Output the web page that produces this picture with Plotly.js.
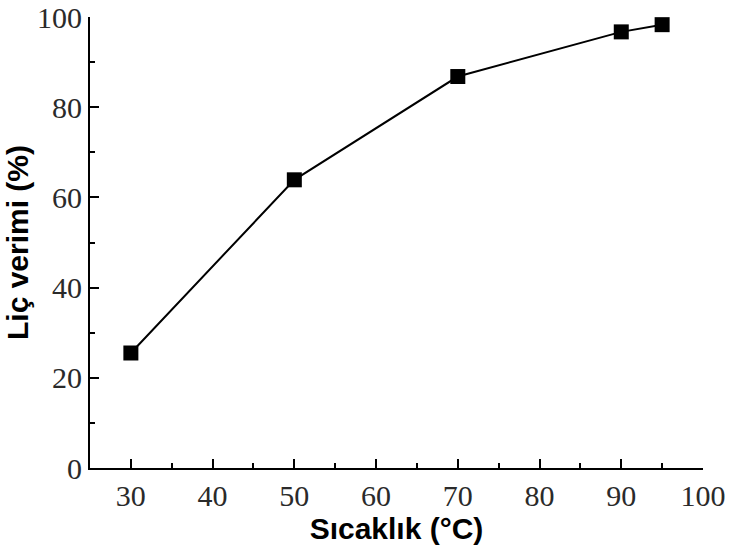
<!DOCTYPE html>
<html>
<head>
<meta charset="utf-8">
<script src="https://cdn.plot.ly/plotly-3.0.1.min.js"></script>
<style>html,body{margin:0;padding:0;background:#fff;}#chart{width:729px;height:551px;}</style>
</head>
<body>
<div id="chart"></div>
<script>
const temperature = [30, 50, 70, 90, 95];
const leachYield = [25.5, 63.9, 86.8, 96.7, 98.3];
const xTickVals = [30, 40, 50, 60, 70, 80, 90, 100];
const yTickVals = [0, 20, 40, 60, 80, 100];
const xTitle = "Sıcaklık (°C)";
const yTitle = "Liç verimi (%)";

const tickFont = {family: "Liberation Serif, Times New Roman, serif", size: 30, color: "#2a2a2a"};
const titleFont = {family: "Liberation Sans, Arial, sans-serif", size: 30, color: "#000", weight: "bold"};

Plotly.newPlot("chart", [{
  x: temperature,
  y: leachYield,
  type: "scatter",
  mode: "lines+markers",
  line: {color: "#000", width: 2},
  marker: {symbol: "square", size: 15, color: "#000"}
}], {
  width: 729, height: 551,
  margin: {l: 90, r: 26, t: 17, b: 83},
  paper_bgcolor: "#fff", plot_bgcolor: "#fff",
  showlegend: false,
  xaxis: {
    range: [25, 100], tickvals: xTickVals, automargin: false, ticklabeloverflow: "allow",
    showgrid: false, zeroline: false, showline: true, linecolor: "#000", linewidth: 2,
    ticks: "inside", ticklen: 9, tickwidth: 2, tickcolor: "#000",
    minor: {tickvals: [35, 45, 55, 65, 75, 85, 95], ticks: "inside", ticklen: 5, tickwidth: 2, tickcolor: "#000"},
    tickfont: tickFont,
    title: {text: xTitle, font: titleFont, standoff: 6}
  },
  yaxis: {
    range: [0, 100], tickvals: yTickVals, automargin: false, ticklabeloverflow: "allow",
    showgrid: false, zeroline: false, showline: true, linecolor: "#000", linewidth: 2,
    ticks: "inside", ticklen: 9, tickwidth: 2, tickcolor: "#000",
    minor: {tickvals: [10, 30, 50, 70, 90], ticks: "inside", ticklen: 5, tickwidth: 2, tickcolor: "#000"},
    tickfont: tickFont,
    title: {text: yTitle, font: titleFont, standoff: 0}
  }
}, {staticPlot: true});
</script>
</body>
</html>
